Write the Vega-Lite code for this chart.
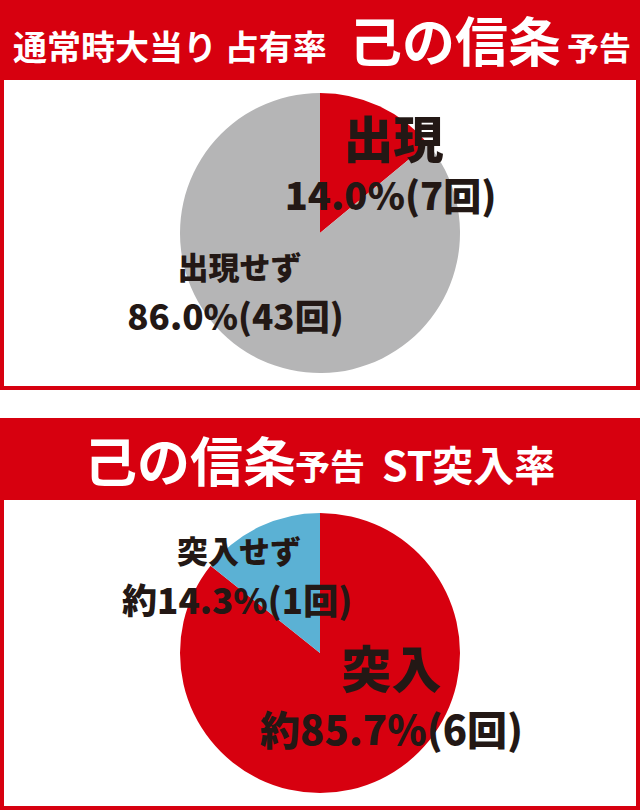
{
  "$schema": "https://vega.github.io/schema/vega-lite/v6.json",
  "padding": 0,
  "background": "white",
  "spacing": 28,
  "config": {
    "font": "Noto Sans CJK JP",
    "view": {"stroke": null},
    "text": {"font": "Noto Sans CJK JP", "fontWeight": "bold", "baseline": "middle", "align": "center"}
  },
  "datasets": {
    "occupancy": [
      {"label": "出現", "n": 7, "pct": "14.0%(7回)"},
      {"label": "出現せず", "n": 43, "pct": "86.0%(43回)"}
    ],
    "st": [
      {"label": "突入", "n": 6, "pct": "約85.7%(6回)"},
      {"label": "突入せず", "n": 1, "pct": "約14.3%(1回)"}
    ]
  },
  "vconcat": [
    {
      "spacing": 0,
      "bounds": "flush",
      "vconcat": [
        {
          "width": 636,
          "height": 76,
          "view": {"fill": "#d7000f", "stroke": "#d7000f", "strokeWidth": 4},
          "layer": [
            {"data": {"values": [{"t": "通常時大当り 占有率"}]}, "mark": {"type": "text", "align": "left", "baseline": "alphabetic", "fontSize": 34, "dx": -307, "dy": 20, "fill": "white"}, "encoding": {"text": {"field": "t"}}},
            {"data": {"values": [{"t": "己の信条"}]}, "mark": {"type": "text", "align": "left", "baseline": "alphabetic", "fontSize": 53, "dx": 29, "dy": 22, "fill": "white"}, "encoding": {"text": {"field": "t"}}},
            {"data": {"values": [{"t": "予告"}]}, "mark": {"type": "text", "align": "left", "baseline": "alphabetic", "fontSize": 32, "dx": 247, "dy": 20, "fill": "white"}, "encoding": {"text": {"field": "t"}}}
          ]
        },
        {
          "width": 636,
          "height": 310,
          "view": {"fill": "white", "stroke": "#d7000f", "strokeWidth": 4},
          "data": {"name": "occupancy"},
          "encoding": {
            "theta": {"field": "n", "type": "quantitative", "stack": true},
            "order": {"field": "label", "sort": "ascending"},
            "detail": {"field": "label"}
          },
          "layer": [
            {"mark": {"type": "arc", "outerRadius": 140}, "encoding": {"color": {"field": "label", "type": "nominal", "scale": {"domain": ["出現", "出現せず", "突入", "突入せず"], "range": ["#d7000f", "#b5b5b6", "#d7000f", "#5bb1d4"]}, "legend": null}}},
            {"mark": {"type": "text", "radius": 100, "dx": 31, "dy": 0, "fill": "#231815", "fontWeight": 900}, "encoding": {"text": {"condition": {"test": "datum.label === '出現'", "field": "label"}, "value": ""}, "size": {"condition": {"test": "datum.label === '出現'", "value": 50}, "value": 0}}},
            {"mark": {"type": "text", "radius": 100, "dx": 28, "dy": 56, "fill": "#231815", "fontWeight": 900}, "encoding": {"text": {"condition": {"test": "datum.label === '出現'", "field": "pct"}, "value": ""}, "size": {"condition": {"test": "datum.label === '出現'", "value": 38}, "value": 0}}},
            {"mark": {"type": "text", "radius": 60, "dx": -55, "dy": -17, "fill": "#231815", "fontWeight": 900}, "encoding": {"text": {"condition": {"test": "datum.label === '出現せず'", "field": "label"}, "value": ""}, "size": {"condition": {"test": "datum.label === '出現せず'", "value": 31}, "value": 0}}},
            {"mark": {"type": "text", "radius": 60, "dx": -59, "dy": 32, "fill": "#231815", "fontWeight": 900}, "encoding": {"text": {"condition": {"test": "datum.label === '出現せず'", "field": "pct"}, "value": ""}, "size": {"condition": {"test": "datum.label === '出現せず'", "value": 35}, "value": 0}}}
          ]
        }
      ]
    },
    {
      "spacing": 0,
      "bounds": "flush",
      "vconcat": [
        {
          "width": 636,
          "height": 78,
          "view": {"fill": "#d7000f", "stroke": "#d7000f", "strokeWidth": 4},
          "layer": [
            {"data": {"values": [{"t": "己の信条"}]}, "mark": {"type": "text", "align": "left", "baseline": "alphabetic", "fontSize": 53, "dx": -236, "dy": 23, "fill": "white"}, "encoding": {"text": {"field": "t"}}},
            {"data": {"values": [{"t": "予告"}]}, "mark": {"type": "text", "align": "left", "baseline": "alphabetic", "fontSize": 35, "dx": -25, "dy": 21, "fill": "white"}, "encoding": {"text": {"field": "t"}}},
            {"data": {"values": [{"t": "ST突入率"}]}, "mark": {"type": "text", "align": "left", "baseline": "alphabetic", "fontSize": 41, "dx": 62, "dy": 22, "fill": "white"}, "encoding": {"text": {"field": "t"}}}
          ]
        },
        {
          "width": 636,
          "height": 310,
          "view": {"fill": "white", "stroke": "#d7000f", "strokeWidth": 4},
          "data": {"name": "st"},
          "encoding": {
            "theta": {"field": "n", "type": "quantitative", "stack": true},
            "order": {"field": "label", "sort": "ascending"},
            "detail": {"field": "label"}
          },
          "layer": [
            {"mark": {"type": "arc", "outerRadius": 140}, "encoding": {"color": {"field": "label", "type": "nominal", "scale": {"domain": ["出現", "出現せず", "突入", "突入せず"], "range": ["#d7000f", "#b5b5b6", "#d7000f", "#5bb1d4"]}, "legend": null}}},
            {"mark": {"type": "text", "radius": 85, "dx": -44, "dy": -22, "fill": "#231815", "fontWeight": 900}, "encoding": {"text": {"condition": {"test": "datum.label === '突入せず'", "field": "label"}, "value": ""}, "size": {"condition": {"test": "datum.label === '突入せず'", "value": 31}, "value": 0}}},
            {"mark": {"type": "text", "radius": 85, "dx": -46, "dy": 27, "fill": "#231815", "fontWeight": 900}, "encoding": {"text": {"condition": {"test": "datum.label === '突入せず'", "field": "pct"}, "value": ""}, "size": {"condition": {"test": "datum.label === '突入せず'", "value": 35}, "value": 0}}},
            {"mark": {"type": "text", "radius": 52, "dx": 49, "dy": -27, "fill": "#231815", "fontWeight": 900}, "encoding": {"text": {"condition": {"test": "datum.label === '突入'", "field": "label"}, "value": ""}, "size": {"condition": {"test": "datum.label === '突入'", "value": 50}, "value": 0}}},
            {"mark": {"type": "text", "radius": 52, "dx": 49, "dy": 33, "fill": "#231815", "fontWeight": 900}, "encoding": {"text": {"condition": {"test": "datum.label === '突入'", "field": "pct"}, "value": ""}, "size": {"condition": {"test": "datum.label === '突入'", "value": 40}, "value": 0}}}
          ]
        }
      ]
    }
  ]
}
